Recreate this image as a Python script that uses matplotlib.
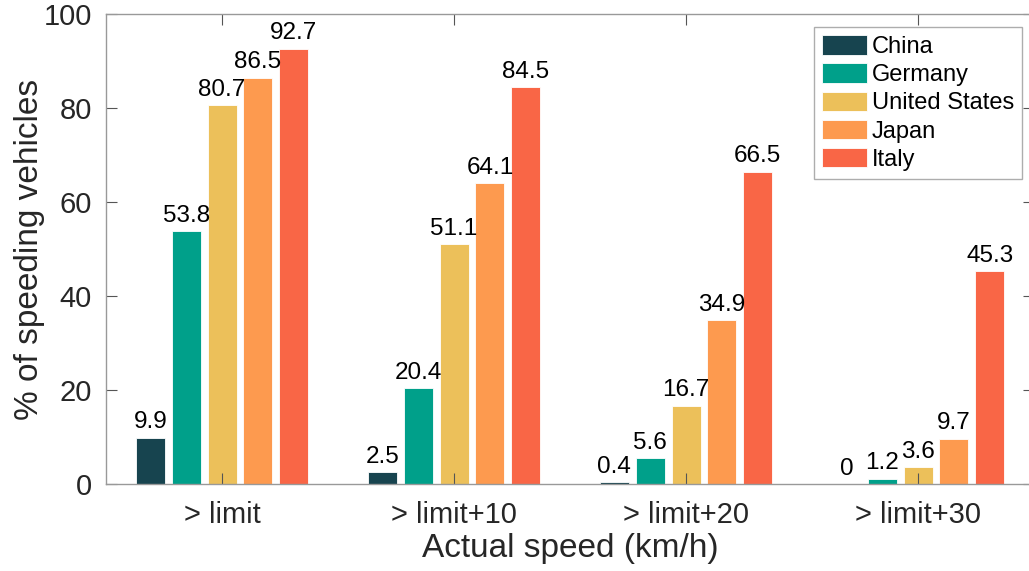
import numpy as np
import matplotlib
matplotlib.use('Agg')
import matplotlib.pyplot as plt

plt.rcParams['font.family'] = ['Liberation Sans', 'DejaVu Sans']

# Data
categories = ['> limit', '> limit+10', '> limit+20', '> limit+30']
countries = ['China', 'Germany', 'United States', 'Japan', 'Italy']
china = [9.9, 2.5, 0.4, 0]
germany = [53.8, 20.4, 5.6, 1.2]
united_states = [80.7, 51.1, 16.7, 3.6]
japan = [86.5, 64.1, 34.9, 9.7]
italy = [92.7, 84.5, 66.5, 45.3]
series = [china, germany, united_states, japan, italy]
colors = ['#17444f', '#00a08a', '#ecc05a', '#fd9a4f', '#f96646']

fig = plt.figure(figsize=(10.29, 5.71), dpi=100)
ax = fig.add_axes([0.103, 0.152, 0.902, 0.823])

x = np.arange(1, len(categories) + 1)
pitch = 0.1545
width = 0.125
for i, (vals, name, c) in enumerate(zip(series, countries, colors)):
    pos = x + (i - 2) * pitch
    ax.bar(pos, vals, width, color=c, edgecolor='white', linewidth=0.6, label=name)
    for xp, v in zip(pos, vals):
        ax.text(xp, v + 0.9, f'{v:g}', ha='center', va='bottom', fontsize=17.5, color='black')

ax.set_xlim(0.5, 4.5)
ax.set_ylim(0, 100)
ax.set_xticks(x)
ax.set_xticklabels(categories)
ax.set_yticks(np.arange(0, 101, 20))
ax.tick_params(axis='both', direction='in', length=8, width=0.8, color='#555555',
               labelsize=21, labelcolor='#262626', top=True, right=True)
ax.tick_params(axis='x', pad=12)
ax.tick_params(axis='y', pad=10)
for s in ax.spines.values():
    s.set_color('#999999')
    s.set_linewidth(1.0)
ax.set_xlabel('Actual speed (km/h)', fontsize=24, color='#262626', labelpad=3)
ax.set_ylabel('% of speeding vehicles', fontsize=24, color='#262626')
ax.yaxis.set_label_coords(-0.066, 0.5)

leg = ax.legend(loc='upper right', bbox_to_anchor=(0.987, 0.973), fontsize=17,
                frameon=True, fancybox=False, edgecolor='#999999', handlelength=1.9,
                handleheight=0.9, handletextpad=0.2, labelspacing=0.22, borderpad=0.35,
                borderaxespad=0)
leg.get_frame().set_linewidth(1.0)

plt.savefig('out.png', dpi=100)
